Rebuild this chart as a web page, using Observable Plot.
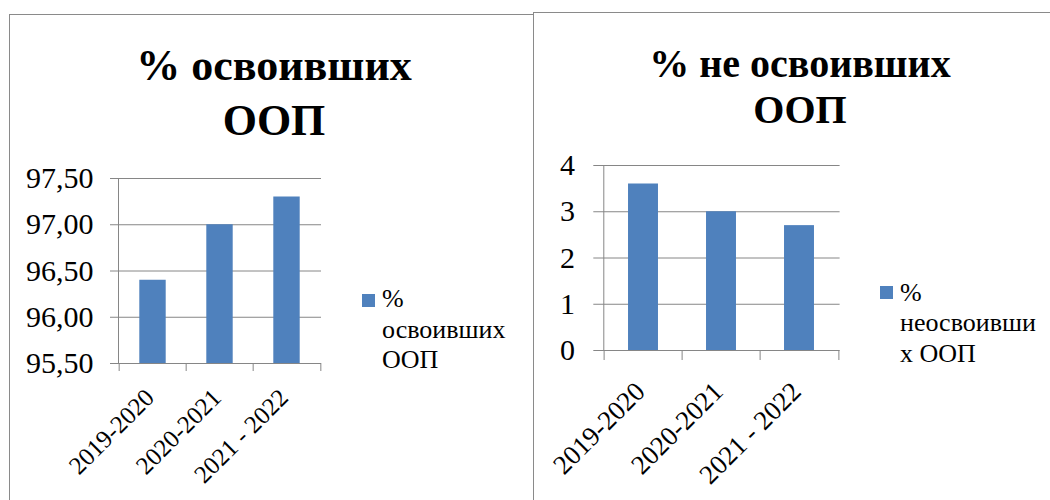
<!DOCTYPE html>
<html>
<head>
<meta charset="utf-8">
<script src="https://cdn.jsdelivr.net/npm/d3@7"></script>
<script src="https://cdn.jsdelivr.net/npm/@observablehq/plot@0.6"></script>
</head>
<body style="margin:0;background:#fff">
<div id="root" style="position:relative;width:1050px;height:500px;overflow:hidden;background:#fff;color:#000;font-family:'Times New Roman', 'Liberation Serif', Tinos, serif"></div>
<script>
// ---- data ----
const categories = ["2019-2020", "2020-2021", "2021 - 2022"];
const masteredValues = [96.4, 97.0, 97.3];
const notMasteredValues = [3.6, 3.0, 2.7];
const masteredTicks = [95.5, 96.0, 96.5, 97.0, 97.5];
const notMasteredTicks = [0, 1, 2, 3, 4];
const masteredTitle = ["% освоивших", "ООП"];
const notMasteredTitle = ["% не освоивших", "ООП"];
const masteredLegend = ["%", "освоивших", "ООП"];
const notMasteredLegend = ["%", "неосвоивши", "х ООП"];

const BLUE = "#4F81BD";
const GRID = "#868686";
const FONT = "'Times New Roman', 'Liberation Serif', Tinos, serif";

const root = document.getElementById("root");

function box(left, top, extra) {
  const d = document.createElement("div");
  d.style.position = "absolute";
  d.style.left = left + "px";
  d.style.top = top + "px";
  if (extra) Object.assign(d.style, extra);
  root.appendChild(d);
  return d;
}

function textBlock(left, top, width, lines, size, lineHeight, bold, align) {
  lines.forEach((txt, i) => {
    const d = box(left, top + i * lineHeight, {
      width: width + "px", fontFamily: FONT, fontSize: size + "px", lineHeight: lineHeight + "px",
      fontWeight: bold ? "bold" : "normal", textAlign: align, whiteSpace: "nowrap"
    });
    d.textContent = txt;
  });
}

function barChart(o) {
  const data = categories.map((c, i) => ({category: c, value: o.values[i]}));
  const plotW = o.width - o.marginLeft - o.marginRight;
  const step = plotW / categories.length;
  const inset = step * (1 - o.barFrac) / 2;
  return Plot.plot({
    width: o.width,
    height: o.height,
    marginLeft: o.marginLeft,
    marginRight: o.marginRight,
    marginTop: o.marginTop,
    marginBottom: o.marginBottom,
    style: {fontFamily: FONT, fontSize: o.yFont + "px", background: "transparent"},
    x: {domain: categories, padding: 0},
    y: {domain: o.domain},
    marks: [
      Plot.ruleY(o.ticks, {stroke: GRID, strokeWidth: 1, insetLeft: -o.yTickSize}),
      Plot.barY(data, {x: "category", y1: o.domain[0], y2: "value", fill: BLUE, insetLeft: inset, insetRight: inset}),
      Plot.frame({anchor: "left", stroke: GRID, strokeWidth: 1}),
      Plot.axisY(o.ticks, {tickSize: 0, tickPadding: o.yTickSize + o.yTickPadding, tickFormat: o.format,
        fontSize: o.yFont, fontFamily: FONT, fill: "#000", label: null}),
      Plot.axisX(categories, {tickSize: o.xTickLen, tickFormat: () => "", stroke: GRID, dx: -step / 2, label: null}),
      Plot.axisX([categories[categories.length - 1]], {tickSize: o.xTickLen, tickFormat: () => "", stroke: GRID, dx: step / 2, label: null}),
      Plot.text(data, {x: "category", text: "category", frameAnchor: "bottom", rotate: -45, textAnchor: "end",
        lineAnchor: "middle", dx: o.labelDx, dy: o.labelDy, fontSize: o.xFont, fontFamily: FONT, fill: "#000"})
    ]
  });
}

// ---- panels (borders) ----
box(9, 13.5, {width: "524px", height: "500px", boxSizing: "border-box",
  borderLeft: "1.5px solid #8a8a8a", borderTop: "1.5px solid #8a8a8a"});
box(533, 12, {width: "530px", height: "500px", boxSizing: "border-box",
  borderLeft: "1.5px solid #8a8a8a", borderTop: "1.5px solid #8a8a8a"});

// ---- titles ----
textBlock(24, 37.5, 500, masteredTitle, 44, 55, true, "center");
textBlock(550, 40.5, 500, notMasteredTitle, 40, 46, true, "center");

// ---- charts ----
box(0, 150, {width: "340px"}).appendChild(barChart({
  values: masteredValues, domain: [95.5, 97.5], ticks: masteredTicks,
  format: d => d.toFixed(2).replace(".", ","),
  width: 340, height: 350, marginLeft: 118, marginRight: 19, marginTop: 28, marginBottom: 137,
  barFrac: 0.4, yTickSize: 8, yTickPadding: 17, yFont: 30, xTickLen: 8,
  xFont: 25, labelDx: -3, labelDy: 30
}));

box(540, 140, {width: "320px"}).appendChild(barChart({
  values: notMasteredValues, domain: [0, 4], ticks: notMasteredTicks,
  format: d => String(d),
  width: 320, height: 360, marginLeft: 63.3, marginRight: 20.4, marginTop: 25, marginBottom: 150,
  barFrac: 0.39, yTickSize: 10, yTickPadding: 18.7, yFont: 30, xTickLen: 10,
  xFont: 27, labelDx: -3, labelDy: 36.5
}));

// ---- legends ----
function legend(x, y, swX, swY, lines) {
  box(swX, swY, {width: "13px", height: "13px", background: BLUE});
  textBlock(x, y, 150, lines, 26, 30.5, false, "left");
}
legend(382, 284, 362, 293.5, masteredLegend);
legend(900, 277.7, 880, 286, notMasteredLegend);
</script>
</body>
</html>
